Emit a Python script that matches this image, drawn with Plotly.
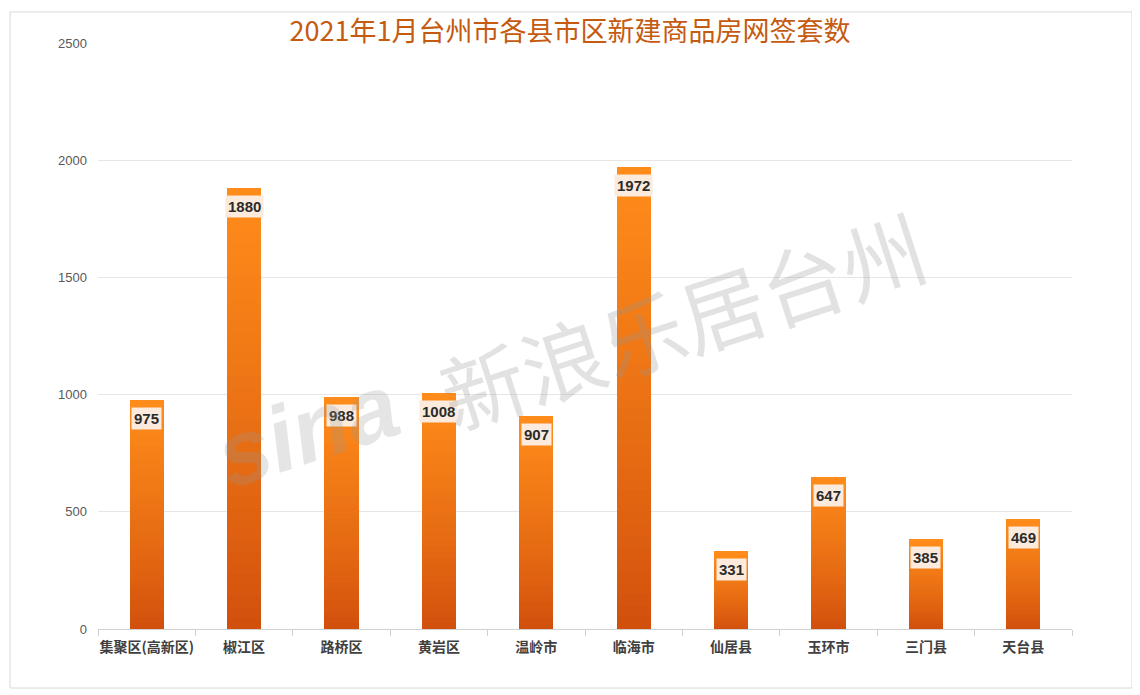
import plotly.graph_objects as go

categories = ["集聚区(高新区)", "椒江区", "路桥区", "黄岩区", "温岭市", "临海市", "仙居县", "玉环市", "三门县", "天台县"]
values = [975, 1880, 988, 1008, 907, 1972, 331, 647, 385, 469]
title_text = "2021年1月台州市各县市区新建商品房网签套数"
y_ticks = [0, 500, 1000, 1500, 2000, 2500]

N = 40
top_rgb = (255, 140, 26)
bot_rgb = (208, 78, 12)

fig = go.Figure()
for k in range(N):
    t = ((k + 0.5) / N) ** 0.8
    r = round(bot_rgb[0] + (top_rgb[0] - bot_rgb[0]) * t)
    g = round(bot_rgb[1] + (top_rgb[1] - bot_rgb[1]) * t)
    b = round(bot_rgb[2] + (top_rgb[2] - bot_rgb[2]) * t)
    fig.add_trace(go.Bar(
        x=categories,
        y=[v / N for v in values],
        marker=dict(color=f"rgb({r},{g},{b})", line=dict(width=0)),
        showlegend=False,
        hoverinfo="skip",
    ))

for c, v in zip(categories, values):
    fig.add_annotation(
        x=c, y=v, xref="x", yref="y", text=f"<b>{v}</b>",
        showarrow=False, yanchor="top", yshift=-7,
        font=dict(family="Liberation Sans Narrow, Liberation Sans, sans-serif", size=15, color="#2b2b2b"),
        bgcolor="#FCEBDC", borderpad=2,
    )

# watermark
fig.add_annotation(
    x=0.60, y=0.53, xref="paper", yref="paper", text="新浪乐居台州",
    xanchor="center", yanchor="middle",
    showarrow=False, textangle=-18,
    font=dict(family="Noto Sans CJK SC", size=84, color="rgba(150,150,150,0.28)"),
)
fig.add_annotation(
    x=0.215, y=0.34, xref="paper", yref="paper", text="<b><i>sina</i></b>",
    xanchor="center", yanchor="middle",
    showarrow=False, textangle=-18,
    font=dict(family="Liberation Sans", size=92, color="rgba(150,150,150,0.25)"),
)

fig.update_layout(
    width=1140, height=695,
    barmode="stack", bargap=0.65,
    plot_bgcolor="white", paper_bgcolor="white",
    margin=dict(l=90, r=76, t=35, b=74, autoexpand=False),
    title=dict(text=title_text, x=(570 - 8) / 1140, xanchor="center", y=1 - (32 - 8) / 695, yanchor="middle",
               font=dict(family="Noto Sans CJK SC", size=27, color="#C55A11")),
    xaxis=dict(
        type="category", showline=True, linecolor="#D0D0D0", linewidth=1,
        ticks="outside", tickson="boundaries", ticklen=6, tickcolor="#D0D0D0",
        tickangle=0, automargin=False, ticklabelstandoff=5,
        tickfont=dict(family="Noto Sans CJK SC", size=14, color="#404040", weight="bold"),
        showgrid=False,
    ),
    yaxis=dict(
        range=[0, 2500], tickvals=y_ticks, showgrid=True, gridcolor="#E6E6E6",
        zeroline=False, showline=False, automargin=False,
        tickfont=dict(family="Liberation Sans", size=13, color="#595959"),
        ticklabelstandoff=10,
    ),
    shapes=[dict(type="rect", xref="paper", yref="paper", x0=-0.0903, x1=1.0616, y0=-0.1007, y1=1.053,
                 line=dict(color="#D8D8D8", width=1))],
)

fig.write_html("out.html")
